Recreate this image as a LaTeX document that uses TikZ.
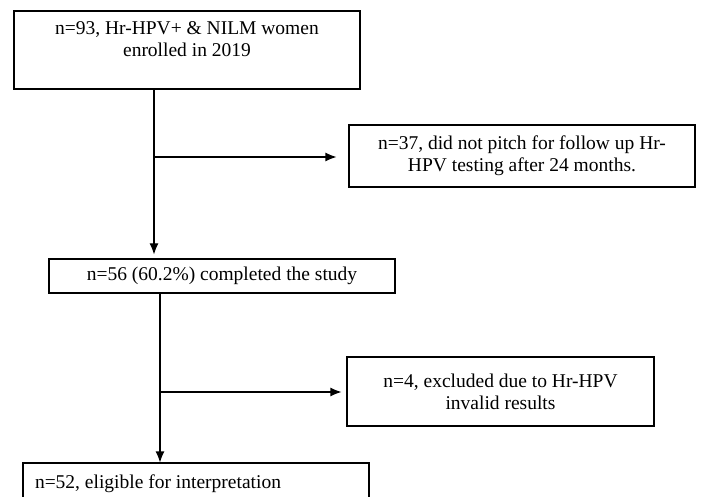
\documentclass[tikz,border=0pt]{standalone}
\usepackage{fontspec}
\setmainfont{Liberation Serif}
\usetikzlibrary{arrows.meta}

\tikzset{
	box/.style={draw, line width=1.1pt, align=center, inner sep=0pt},
	arr/.style={-{Latex[length=11pt,width=9pt]}, line width=1.1pt}
}

\begin{document}
\begin{tikzpicture}[x=1pt, y=-1pt, font=\fontsize{19.5}{22}\selectfont]

		\clip (0,0) rectangle (705,497);

		\node[box, minimum width=346, minimum height=78] (enrol) at (187,50) {n=93, Hr-HPV+ \& NILM women\\enrolled in 2019\\ \mbox{}};
		\node[box, minimum width=346, minimum height=62] (nopitch) at (522,156) {n=37, did not pitch for follow up Hr-\\HPV testing after 24 months.};
		\node[box, minimum width=346, minimum height=34] (done) at (222,276) {n=56 (60.2\%) completed the study};
		\node[box, minimum width=307, minimum height=69] (excl) at (500.5,391.5) {n=4, excluded due to Hr-HPV\\invalid results};
		\node[box, minimum width=346, minimum height=42, text width=322, inner xsep=12pt, align=flush left] (eligible) at (196,484) {n=52, eligible for interpretation};

		\coordinate (split1) at (154,157);
		\coordinate (split2) at (160,392);

		\draw[line width=1.1pt] (enrol.south -| split1) -- (split1);
		\draw[arr, shorten >=4pt] (split1) -- (done.north -| split1);
		\draw[arr, shorten >=12pt] (split1) -- (nopitch.west |- split1);

		\draw[line width=1.1pt] (done.south -| split2) -- (split2);
		\draw[arr] (split2) -- (eligible.north -| split2);
		\draw[arr, shorten >=5pt] (split2) -- (excl.west |- split2);
	\end{tikzpicture}
\end{document}
